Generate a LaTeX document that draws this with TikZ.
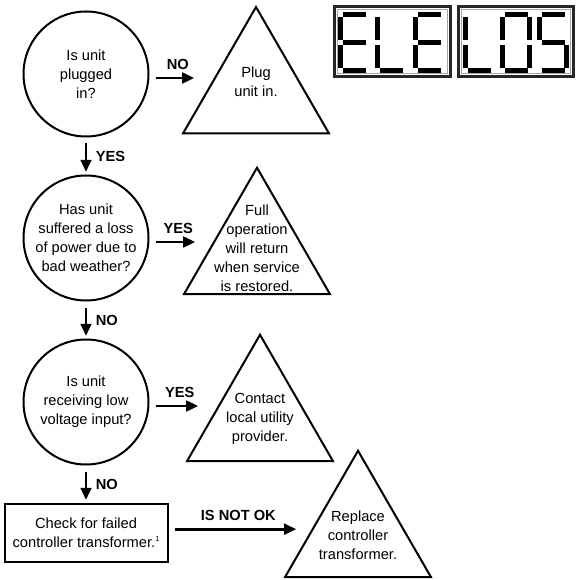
\documentclass[tikz,border=0pt]{standalone}
\usepackage{fontspec}
\setmainfont{Liberation Sans}
\usetikzlibrary{shapes.geometric,arrows.meta,positioning}

\begin{document}
\begin{tikzpicture}[
    x=0.75pt,y=-0.75pt,
    node distance=27.75pt,
    every node/.style={font=\fontsize{11}{14.25}\selectfont},
    quest/.style={draw,circle,line width=1.5pt,minimum size=93.75pt,inner sep=0pt,align=center},
    answer/.style={draw,regular polygon,regular polygon sides=3,line width=1.5pt,minimum size=126.4pt,inner sep=0pt},
    checkbox/.style={draw,line width=1.5pt,minimum width=122.25pt,minimum height=43.5pt,align=center},
    arrow/.style={-{Triangle[length=9pt,width=8pt]},line width=2pt,shorten <=4.5pt,shorten >=9pt},
    lbl/.style={font=\fontsize{11}{14.25}\selectfont\bfseries},
    seg a/.pic={\fill (5,12) rectangle (28,17);},
    seg b/.pic={\fill (27,17) rectangle (32,40);},
    seg c/.pic={\fill (27,45) rectangle (32,68);},
    seg d/.pic={\fill (5,68) rectangle (28,73);},
    seg e/.pic={\fill (0,45) rectangle (5,68);},
    seg f/.pic={\fill (0,17) rectangle (5,40);},
    seg g/.pic={\fill (5,40) rectangle (28,45);}
  ]
    \useasboundingbox (0,0) rectangle (575,580);
    \node[quest] (plugged) at (86,74) {Is unit\\plugged\\in?};
    \node[quest,below=of plugged] (weather) {Has unit\\suffered a loss\\of power due to\\bad weather?};
    \node[quest,below=of weather] (lowvolt) {Is unit\\receiving low\\voltage input?};
    \node[checkbox,below=of lowvolt] (check) {Check for failed\\controller transformer.\raisebox{4pt}{\fontsize{5.5}{6}\selectfont 1}};
    \node[answer,label={[yshift=7.5pt,align=center]center:Plug\\unit in.}] (plug) at (256,91.3) {};
    \node[answer,label={[yshift=3pt,align=center]center:Full\\operation\\will return\\when service\\is restored.}] (restore) at (257,252) {};
    \node[answer,label={[align=center]center:Contact\\local utility\\provider.}] (utility) at (260,419) {};
    \node[answer,label={[align=center]center:Replace\\controller\\transformer.}] (replace) at (358,535) {};
    \draw[arrow] ([yshift=-3pt]plugged.east) -- ([yshift=-3pt]plugged.east -| plug.west) node[lbl,midway,above=2pt]{NO};
    \draw[arrow] ([yshift=-3pt]weather.east) -- ([yshift=-3pt]weather.east -| restore.west) node[lbl,midway,above=2pt]{YES};
    \draw[arrow] ([yshift=-3pt]lowvolt.east) -- ([yshift=-3pt]lowvolt.east -| utility.west) node[lbl,midway,above=2pt]{YES};
    \draw[arrow] ([yshift=2.5pt]check.east) -- ([yshift=2.5pt]check.east -| replace.west) node[lbl,midway,above=2pt]{IS NOT OK};
    \draw[arrow,shorten >=2pt] (plugged) -- (weather) node[lbl,midway,right=3pt]{YES};
    \draw[arrow,shorten >=2pt] (weather) -- (lowvolt) node[lbl,midway,right=3pt]{NO};
    \draw[arrow,shorten >=2pt] (lowvolt) -- (check) node[lbl,midway,right=3pt]{NO};
    \draw[line width=2.25pt,black!85] (334.5,6.5) rectangle (450.5,76.5);
    \draw[line width=0.5pt,gray!70] (337.5,9.5) rectangle (447.5,73.5);
    \draw[line width=2.25pt,black!85] (458.5,6.5) rectangle (573,76.5);
    \draw[line width=0.5pt,gray!70] (461.5,9.5) rectangle (570,73.5);
    \foreach \dx/\segs in {338/{a,d,e,f,g},375/{d,e,f},413/{a,d,e,f,g},463/{d,e,f},500/{a,b,c,d,e,f},537/{a,c,d,f,g}}
      \foreach \s in \segs
        \pic at (\dx,0) {seg \s};
  \end{tikzpicture}
\end{document}
